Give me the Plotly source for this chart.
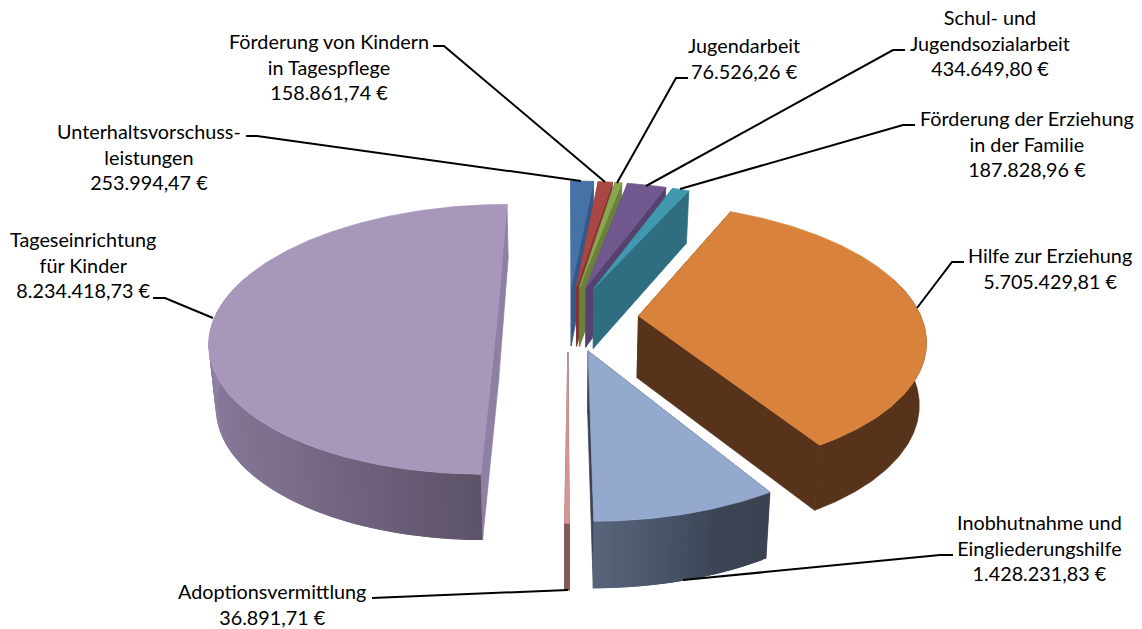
import math
import plotly.graph_objects as go

# ---- data ----
names = ["Unterhaltsvorschuss-<br>leistungen", "Förderung von Kindern<br>in Tagespflege", "Jugendarbeit",
         "Schul- und<br>Jugendsozialarbeit", "Förderung der Erziehung<br>in der Familie", "Hilfe zur Erziehung",
         "Inobhutnahme und<br>Eingliederungshilfe", "Adoptionsvermittlung", "Tageseinrichtung<br>für Kinder"]
values = [253994.47, 158861.74, 76526.26, 434649.80, 187828.96, 5705429.81, 1428231.83, 36891.71, 8234418.73]
top_colors = ["#4573A7", "#AA4643", "#89A54E", "#71588F", "#4198AF", "#D9823B", "#94A9CE", "#D39694", "#A797BA"]
edge_colors = ["#35588A", "#82342F", "#6A813A", "#56426F", "#2F6E80", "#56331A", "#3B4252", "#7F5A58", "#8E80A3"]
wall_stops = [None, None, None, None, None, ["#56331A", "#56331A"], ["#3B4252", "#3D4555", "#4A566A", "#56657B"],
              ["#7F5A58", "#7F5A58"], ["#5D5369", "#7A6C8A", "#8A7B9C", "#9C8CB0"]]

label_pos = [(149, 156), (329, 66), (744, 58), (990, 42), (1027, 143), (1050, 268), (1039, 547), (272, 604), (83, 264)]
leaders = [[(246, 136), (257, 136), (581, 181)], [(433, 46), (444, 46), (605, 182)], [(688, 78), (676, 78), (617, 183)],
           [(905, 50), (893, 50), (646, 186)], [(915, 125), (903, 125), (680, 189)], [(964, 262), (952, 262), (917, 308)],
           [(953, 555), (940, 555), (683, 580)], [(372, 598), (568, 590)], [(153, 298), (165, 298), (213, 318)]]

# ---- projection parameters ----
CX, CY, RX = 568.0, 318.0, 283.0
D, K = 6.28, 826.0
H, SHRINK, EXPL = 62.0, 0.98, 0.25

def project(X, Y, bottom=False):
    s = D / (D + Y)
    x = CX + RX * X * s * (SHRINK if bottom else 1.0)
    y = CY + K * (s - 1.0) + (H * (s if s < 1 else s ** 0.35) if bottom else 0.0)
    return x, y

def hex2rgb(c):
    return tuple(int(c[i:i + 2], 16) for i in (1, 3, 5))

def lerp(stops, t):
    p = min(max(t, 0.0), 0.9999) * (len(stops) - 1)
    i = int(p)
    a, b = hex2rgb(stops[i]), hex2rgb(stops[i + 1])
    f = p - i
    return "rgb(%d,%d,%d)" % tuple(round(a[k] + (b[k] - a[k]) * f) for k in range(3))

fig = go.Figure()

def poly(pts, color, width=0.7):
    xs = [p[0] for p in pts] + [pts[0][0]]
    ys = [p[1] for p in pts] + [pts[0][1]]
    fig.add_trace(go.Scatter(x=xs, y=ys, mode="lines", fill="toself", fillcolor=color,
                             line=dict(color=color, width=width), hoverinfo="skip", showlegend=False))

total = sum(values)
angle = 0.0
slices = []
for v in values:
    sweep = v / total * 2 * math.pi
    slices.append((angle, angle + sweep))
    angle += sweep

for i, (a0, a1) in enumerate(slices):
    mid = (a0 + a1) / 2
    ax, ay = EXPL * math.sin(mid), EXPL * math.cos(mid)
    n = max(2, int((a1 - a0) / math.radians(0.75)))
    angs = [a0 + (a1 - a0) * j / n for j in range(n + 1)]
    rim = [(ax + math.sin(t), ay + math.cos(t)) for t in angs]
    # radial walls
    for px, py in ([rim[-1], rim[0]] if a0 > math.pi / 2 else [rim[0], rim[-1]]):
        poly([project(ax, ay), project(px, py), project(px, py, True), project(ax, ay, True)], edge_colors[i])
    # outer wall, front part only, as shaded strips
    stops = wall_stops[i]
    if stops:
        front = [j for j in range(n) if math.cos(angs[j]) < 0.3]
        if front:
            f0, f1 = front[0], front[-1]
            if len(set(stops)) == 1:
                ring = [project(*rim[j]) for j in range(f0, f1 + 2)] + [project(*rim[j], True) for j in range(f1 + 1, f0 - 1, -1)]
                poly(ring, stops[0])
            else:
                for j in front:
                    t = (j - f0) / max(1, f1 - f0)
                    j2 = min(j + 2, n)
                    poly([project(*rim[j]), project(*rim[j2]), project(*rim[j2], True), project(*rim[j], True)],
                         lerp(stops, t), width=0)
    # top
    poly([project(ax, ay)] + [project(px, py) for px, py in rim], top_colors[i])

# leader lines
for pts in leaders:
    fig.add_trace(go.Scatter(x=[p[0] for p in pts], y=[p[1] for p in pts], mode="lines",
                             line=dict(color="black", width=2), hoverinfo="skip", showlegend=False))

def de(v):
    return f"{v:,.2f}".replace(",", "#").replace(".", ",").replace("#", ".") + " €"

for nm, v, (x, y) in zip(names, values, label_pos):
    fig.add_annotation(x=x, y=y, xref="x", yref="y", text=f"{nm}<br>{de(v)}", showarrow=False,
                       font=dict(family="Lato", size=19.8, color="black"), align="center",
                       xanchor="center", yanchor="middle")

fig.update_layout(width=1142, height=629, margin=dict(l=0, r=0, t=0, b=0), paper_bgcolor="white",
                  plot_bgcolor="white", showlegend=False,
                  xaxis=dict(range=[0, 1142], visible=False, fixedrange=True),
                  yaxis=dict(range=[629, 0], visible=False, fixedrange=True))
fig.write_html("out.html", config={"displayModeBar": False},
               post_script="document.body.style.margin='0';document.documentElement.style.overflow='hidden';")
